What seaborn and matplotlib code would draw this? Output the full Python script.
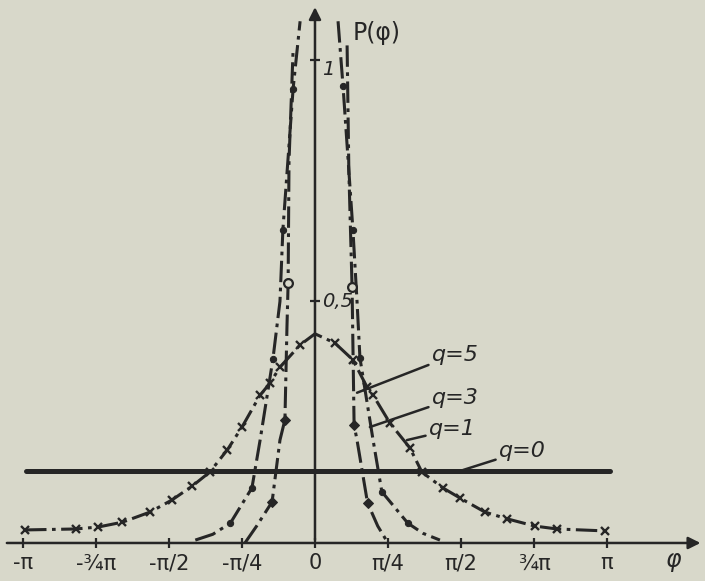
import numpy as np
import pandas as pd
import matplotlib
matplotlib.use('Agg')
import matplotlib.pyplot as plt
import seaborn as sns

# phase in units of pi, probability density
q1_phi = [-0.993, -0.82, -0.743, -0.66, -0.565, -0.49, -0.42, -0.36, -0.30, -0.25,
          -0.188, -0.154, -0.12, -0.051, 0.0, 0.068, 0.13, 0.178, 0.199, 0.257,
          0.325, 0.366, 0.438, 0.497, 0.582, 0.658, 0.753, 0.829, 0.993]
q1_p = [0.027, 0.029, 0.033, 0.043, 0.064, 0.089, 0.118, 0.147, 0.193, 0.240,
        0.306, 0.331, 0.364, 0.410, 0.433, 0.414, 0.379, 0.323, 0.306, 0.248,
        0.197, 0.147, 0.114, 0.093, 0.064, 0.050, 0.035, 0.029, 0.025]

q3_left_phi = [-0.41, -0.35, -0.29, -0.216, -0.188, -0.144, -0.12, -0.11, -0.075, -0.051]
q3_left_p = [0.006, 0.018, 0.041, 0.114, 0.213, 0.381, 0.50, 0.648, 0.94, 1.08]
q3_right_phi = [0.079, 0.096, 0.13, 0.144, 0.154, 0.199, 0.229, 0.318, 0.37, 0.428]
q3_right_p = [1.08, 0.946, 0.648, 0.50, 0.383, 0.213, 0.106, 0.041, 0.02, 0.006]

q5_left_phi = [-0.24, -0.20, -0.147, -0.12, -0.103, -0.096, -0.092, -0.089, -0.075]
q5_left_p = [0.0, 0.035, 0.085, 0.213, 0.255, 0.447, 0.538, 0.79, 1.02]
q5_right_phi = [0.11, 0.116, 0.127, 0.134, 0.144, 0.18, 0.215, 0.25]
q5_right_p = [1.03, 0.77, 0.53, 0.244, 0.213, 0.083, 0.035, 0.0]

q0_phi = [-0.99, 1.01]
q0_p = [0.15, 0.15]

xticks = [-1, -0.75, -0.5, -0.25, 0, 0.25, 0.5, 0.75, 1]
xlabels = ['-π', '-¾π', '-π/2', '-π/4', '0', 'π/4', 'π/2', '¾π', 'π']

# colours of the scan
bg = '#d8d8ca'
ink = '#262626'

sns.set_style('white', {'axes.facecolor': bg, 'figure.facecolor': bg})
plt.rcParams['font.family'] = ['DejaVu Sans']

fig = plt.figure(figsize=(7.05, 5.81), dpi=100)
ax = fig.add_axes([0, 0, 1, 1])
ax.set_xlim(-1.079, 1.336)
ax.set_ylim(-0.0787, 1.124)

dash = (0, (7, 1.8, 1.2, 1.8))
lw = 2.2
common = dict(ax=ax, color=ink, estimator=None, sort=False, mec=ink, mfc=ink)

# q=1
sns.lineplot(x=q1_phi, y=q1_p, lw=lw, linestyle=dash, marker='x', ms=5.5, mew=1.7,
             markevery=[i for i in range(len(q1_phi)) if i != 14], **common)
# q=3
sns.lineplot(x=q3_left_phi, y=q3_left_p, lw=lw, linestyle=dash, marker='o', ms=4.5,
             markevery=[2, 3, 5, 7, 8], **common)
sns.lineplot(x=q3_right_phi, y=q3_right_p, lw=lw, linestyle=dash, marker='o', ms=4.5,
             markevery=[1, 2, 4, 6, 7], **common)
# q=5
sns.lineplot(x=q5_left_phi, y=q5_left_p, lw=lw, linestyle=dash, marker='D', ms=5,
             markevery=[2, 4], **common)
sns.lineplot(x=q5_right_phi, y=q5_right_p, lw=lw, linestyle=dash, marker='D', ms=5,
             markevery=[3, 5], **common)
# open circles on q=5
sns.scatterplot(x=[q5_left_phi[6], q5_right_phi[2]], y=[q5_left_p[6], q5_right_p[2]],
                ax=ax, marker='o', s=40, color=bg, edgecolor=ink, linewidth=1.6, zorder=3)
# q=0
sns.lineplot(x=q0_phi, y=q0_p, ax=ax, color=ink, lw=3.6, estimator=None, sort=False)

# axes with arrows
for s in ['top', 'right']:
    ax.spines[s].set_visible(False)
for s in ['left', 'bottom']:
    ax.spines[s].set_position(('data', 0))
    ax.spines[s].set_color('none')
ax.annotate('', xy=(1.33, 0), xytext=(-1.065, 0),
            arrowprops=dict(arrowstyle='-|>', color=ink, lw=1.8, mutation_scale=18))
ax.annotate('', xy=(0, 1.115), xytext=(0, 0),
            arrowprops=dict(arrowstyle='-|>', color=ink, lw=1.8, mutation_scale=18))

ax.set_xticks(xticks)
ax.set_xticklabels(xlabels)
ax.tick_params(axis='x', bottom=True, direction='inout', length=7, width=1.6, color=ink,
               labelcolor=ink, labelsize=15, pad=4)
ax.set_yticks([0.5, 1])
ax.set_yticklabels([])
ax.tick_params(axis='y', left=True, direction='inout', length=7, width=1.6, color=ink)
ax.text(0.025, 1.0, '1', fontsize=14, color=ink, va='top', ha='left', style='italic')
ax.text(0.025, 0.5, '0,5', fontsize=14, color=ink, va='center', ha='left', style='italic')
ax.text(1.23, -0.035, 'φ', fontsize=17, color=ink, va='center', ha='center', style='italic')
ax.text(0.13, 1.055, 'P(φ)', fontsize=17, color=ink, va='center', ha='left')

# curve labels with leader lines
lbl = dict(fontsize=16, color=ink, style='italic', va='center', ha='left',
           arrowprops=dict(arrowstyle='-', color=ink, lw=1.8, shrinkA=0, shrinkB=0))
ax.annotate('q=5', xy=(0.144, 0.311), xytext=(0.40, 0.39), **lbl)
ax.annotate('q=3', xy=(0.188, 0.240), xytext=(0.40, 0.30), **lbl)
ax.annotate('q=1', xy=(0.315, 0.213), xytext=(0.39, 0.235), **lbl)
ax.annotate('q=0', xy=(0.507, 0.151), xytext=(0.63, 0.19), **lbl)

fig.savefig('out.png', dpi=100, facecolor=bg)
